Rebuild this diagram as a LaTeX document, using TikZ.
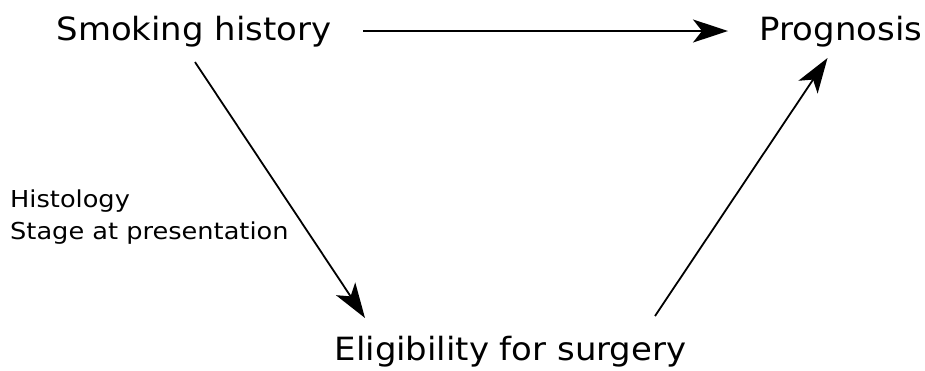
\documentclass[tikz,border=0pt]{standalone}
\usepackage{fontspec}
\setmainfont{DejaVu Sans}
\newfontfamily\mainlbl[FakeStretch=1.06]{DejaVu Sans}
\newfontfamily\notelbl[FakeStretch=1.1]{DejaVu Sans}
\usetikzlibrary{arrows.meta}
\begin{document}
\begin{tikzpicture}[x=1pt,y=-1pt,
  lbl/.style={inner sep=0pt,font=\mainlbl\fontsize{32}{36}\selectfont},
  note/.style={inner sep=0pt,align=left,font=\notelbl\fontsize{23.3}{31.7}\selectfont},
  arr/.style={line width=1.8pt,-{Stealth[length=35pt,width=23pt,inset=9pt]}}]
\useasboundingbox (0,0) rectangle (925,370);
\node[lbl,anchor=base] (smk) at (194,40) {Smoking history};
\node[lbl,anchor=base] (prg) at (841,40) {Prognosis};
\node[lbl,anchor=base] (elg) at (510.5,360) {Eligibility for surgery};
\node[note,anchor=base west] (lab) at (10,239.2) {Histology\\Stage at presentation};
\coordinate (a1) at (363,31);
\coordinate (a2) at (728,31);
\coordinate (b1) at (195,62);
\coordinate (b2) at (365,318);
\coordinate (c1) at (655,316);
\coordinate (c2) at (827.5,58);
\draw[arr] (a1) -- (a2);
\draw[arr] (b1) -- (b2);
\draw[arr] (c1) -- (c2);
\end{tikzpicture}
\end{document}
